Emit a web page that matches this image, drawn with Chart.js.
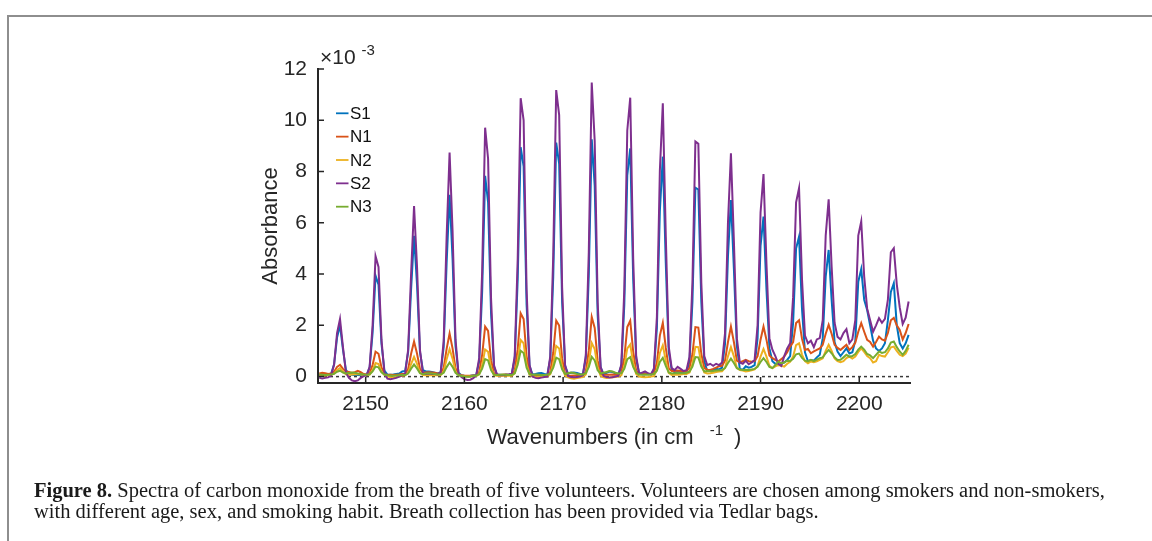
<!DOCTYPE html>
<html>
<head>
<meta charset="utf-8">
<script src="https://cdn.jsdelivr.net/npm/chart.js@4.4.1/dist/chart.umd.min.js"></script>
<style>
body{margin:0;background:#fff;width:1152px;height:541px;overflow:hidden;position:relative;}
#frame{position:absolute;left:7px;top:15px;right:0;bottom:0;border-top:2px solid #8e8e8e;border-left:2px solid #8e8e8e;}
#mycanvas{position:absolute;left:0;top:0;}
#caption{position:absolute;left:34px;top:480px;font-family:"Liberation Serif","Times New Roman",serif;color:#1a1a1a;line-height:21px;white-space:nowrap;font-size:18px;}
</style>
</head>
<body>
<div id="frame"></div>
<canvas id="mycanvas" width="1152" height="541"></canvas>
<div id="caption">
	<div><span id="cap1"><b>Figure 8.</b> Spectra of carbon monoxide from the breath of five volunteers. Volunteers are chosen among smokers and non-smokers,</span></div>
	<div>with different age, sex, and smoking habit. Breath collection has been provided via Tedlar bags.</div>
</div>
<script>
var wavenumbers = [
	2145.3,2145.6,2145.9,2146.2,2146.5,2146.8,2147.1,2147.4,2147.7,2148.0,
	2148.3,2148.6,2148.9,2149.2,2149.5,2149.8,2150.1,2150.4,2150.7,2151.0,
	2151.3,2151.6,2151.9,2152.2,2152.5,2152.8,2153.1,2153.4,2153.7,2154.0,
	2154.3,2154.6,2154.9,2155.2,2155.5,2155.8,2156.1,2156.4,2156.7,2157.0,
	2157.3,2157.6,2157.9,2158.2,2158.5,2158.8,2159.1,2159.4,2159.7,2160.0,
	2160.3,2160.6,2160.9,2161.2,2161.5,2161.8,2162.1,2162.4,2162.7,2163.0,
	2163.3,2163.6,2163.9,2164.2,2164.5,2164.8,2165.1,2165.4,2165.7,2166.0,
	2166.3,2166.6,2166.9,2167.2,2167.5,2167.8,2168.1,2168.4,2168.7,2169.0,
	2169.3,2169.6,2169.9,2170.2,2170.5,2170.8,2171.1,2171.4,2171.7,2172.0,
	2172.3,2172.6,2172.9,2173.2,2173.5,2173.8,2174.1,2174.4,2174.7,2175.0,
	2175.3,2175.6,2175.9,2176.2,2176.5,2176.8,2177.1,2177.4,2177.7,2178.0,
	2178.3,2178.6,2178.9,2179.2,2179.5,2179.8,2180.1,2180.4,2180.7,2181.0,
	2181.3,2181.6,2181.9,2182.2,2182.5,2182.8,2183.1,2183.4,2183.7,2184.0,
	2184.3,2184.6,2184.9,2185.2,2185.5,2185.8,2186.1,2186.4,2186.7,2187.0,
	2187.3,2187.6,2187.9,2188.2,2188.5,2188.8,2189.1,2189.4,2189.7,2190.0,
	2190.3,2190.6,2190.9,2191.2,2191.5,2191.8,2192.1,2192.4,2192.7,2193.0,
	2193.3,2193.6,2193.9,2194.2,2194.5,2194.8,2195.1,2195.4,2195.7,2196.0,
	2196.3,2196.6,2196.9,2197.2,2197.5,2197.8,2198.1,2198.4,2198.7,2199.0,
	2199.3,2199.6,2199.9,2200.2,2200.5,2200.8,2201.1,2201.4,2201.7,2202.0,
	2202.3,2202.6,2202.9,2203.2,2203.5,2203.8,2204.1,2204.4,2204.7,2205.0
];

// absorbance, units of 1e-3
var S1 = [
	0.08,0.05,0.06,0.08,0.11,0.48,1.52,2.0,1.05,0.26,
	0.1,0.07,0.06,0.06,0.05,0.06,0.08,0.35,1.7,3.94,
	3.59,1.28,0.23,0.08,0.07,0.08,0.1,0.12,0.2,0.22,
	0.95,3.4,5.49,3.6,0.95,0.25,0.2,0.2,0.18,0.15,
	0.12,0.17,1.15,4.43,7.09,4.6,1.2,0.15,0.05,0.03,
	0.02,0.03,0.05,0.06,0.6,3.32,7.83,6.8,2.47,0.37,
	0.08,0.07,0.06,0.07,0.08,0.1,0.7,3.8,8.95,8.2,
	2.8,0.42,0.08,0.1,0.13,0.14,0.1,0.07,0.7,3.9,
	9.13,8.3,2.9,0.42,0.12,0.15,0.16,0.14,0.1,0.08,
	0.72,3.95,9.26,7.45,2.4,0.36,0.1,0.15,0.2,0.18,
	0.12,0.1,0.42,2.8,7.85,8.9,3.8,0.7,0.12,0.13,
	0.12,0.1,0.1,0.25,1.9,6.46,8.58,4.43,0.97,0.28,
	0.16,0.18,0.16,0.15,0.17,0.58,2.91,7.37,7.3,2.91,
	0.6,0.22,0.22,0.25,0.3,0.28,0.35,1.27,4.7,6.89,
	4.2,1.2,0.3,0.26,0.4,0.35,0.38,0.45,1.5,5.1,
	6.24,3.4,1.1,0.6,0.5,0.45,0.5,0.55,0.65,0.8,
	2.1,5.0,5.46,2.64,0.95,0.6,0.65,0.62,0.75,0.85,
	1.5,3.9,4.94,3.0,1.35,0.98,0.8,0.95,1.1,0.9,
	0.95,1.4,3.7,4.19,3.0,2.6,2.0,1.4,1.1,1.0,
	1.1,1.3,2.2,3.3,3.64,2.0,1.3,1.1,1.3,1.63
];
var N1 = [
	0.12,0.15,0.13,0.1,0.12,0.19,0.38,0.46,0.3,0.2,
	0.18,0.14,0.17,0.22,0.17,0.1,0.08,0.14,0.45,0.97,
	0.89,0.36,0.1,0.06,0.07,0.06,0.07,0.08,0.1,0.11,
	0.29,0.89,1.37,0.9,0.3,0.14,0.16,0.17,0.16,0.15,
	0.12,0.12,0.34,1.08,1.68,1.1,0.33,0.1,0.05,0.03,
	0.03,0.03,0.04,0.05,0.18,0.85,1.95,1.78,0.64,0.12,
	0.07,0.06,0.07,0.08,0.07,0.07,0.23,1.07,2.47,2.25,
	0.8,0.13,0.04,0.03,0.03,0.04,0.03,0.03,0.18,0.93,
	2.18,1.99,0.7,0.1,0.03,0.03,0.04,0.03,0.03,0.04,
	0.2,1.0,2.33,1.9,0.62,0.1,0.06,0.07,0.07,0.08,
	0.07,0.08,0.15,0.73,1.93,2.18,0.97,0.23,0.1,0.1,
	0.11,0.1,0.1,0.13,0.54,1.6,2.1,1.13,0.32,0.22,
	0.22,0.24,0.22,0.2,0.22,0.33,0.88,1.93,1.91,0.88,
	0.34,0.27,0.26,0.3,0.35,0.4,0.42,0.62,1.35,1.95,
	1.35,0.62,0.55,0.6,0.65,0.6,0.58,0.6,0.8,1.44,
	1.95,1.44,0.82,0.72,0.65,0.59,0.68,0.78,0.95,1.17,
	1.34,2.09,2.2,1.47,1.04,1.08,0.91,0.98,1.04,1.1,
	1.24,1.67,2.02,1.67,1.24,1.12,1.04,1.14,1.24,1.04,
	1.15,1.33,1.75,2.09,1.75,1.43,1.35,1.17,1.35,1.56,
	1.45,1.4,1.7,2.2,2.29,2.0,1.82,1.45,1.7,2.05
];
var N2 = [
	0.05,0.03,0.04,0.05,0.06,0.12,0.26,0.33,0.2,0.09,
	0.07,0.08,0.09,0.1,0.08,0.06,0.05,0.08,0.25,0.53,
	0.49,0.2,0.06,0.0,-0.02,-0.03,-0.02,0.0,0.03,0.05,
	0.15,0.49,0.77,0.5,0.15,0.06,0.05,0.06,0.05,0.05,
	0.05,0.06,0.2,0.68,1.07,0.7,0.2,0.06,0.03,0.01,
	0.0,0.0,0.01,0.02,0.09,0.45,1.06,0.97,0.34,0.06,
	0.03,0.02,0.03,0.04,0.03,0.03,0.13,0.62,1.43,1.3,
	0.47,0.08,0.0,-0.02,-0.03,-0.02,0.0,0.0,0.09,0.5,
	1.2,1.1,0.37,0.04,-0.03,-0.07,-0.08,-0.06,-0.04,-0.02,
	0.08,0.55,1.31,1.07,0.35,0.03,-0.03,-0.05,-0.04,-0.03,
	-0.02,0.0,0.05,0.39,1.1,1.25,0.53,0.1,0.0,-0.02,
	-0.03,-0.02,0.0,0.02,0.27,0.92,1.22,0.63,0.14,0.06,
	0.08,0.07,0.08,0.1,0.1,0.16,0.5,1.16,1.15,0.5,
	0.16,0.12,0.13,0.15,0.18,0.2,0.21,0.34,0.79,1.15,
	0.79,0.34,0.26,0.24,0.2,0.22,0.25,0.28,0.42,0.78,
	1.08,0.78,0.42,0.33,0.4,0.45,0.42,0.39,0.5,0.58,
	0.78,1.23,1.3,0.86,0.6,0.52,0.59,0.56,0.6,0.65,
	0.71,1.0,1.24,1.0,0.71,0.6,0.56,0.6,0.72,0.78,
	0.7,0.78,0.96,1.1,0.96,0.8,0.72,0.55,0.6,0.85,
	0.8,0.78,0.95,1.14,1.17,1.0,0.85,0.8,0.9,1.12
];
var S2 = [
	-0.05,-0.07,-0.05,-0.03,0.04,0.47,1.69,2.25,1.15,0.15,
	-0.05,-0.15,-0.18,-0.15,-0.05,0.02,0.05,0.38,2.0,4.7,
	4.28,1.44,0.14,-0.08,-0.1,-0.08,-0.05,0.0,0.05,0.12,
	1.04,4.0,6.65,4.3,1.04,0.12,0.1,0.12,0.1,0.1,
	0.08,0.17,1.38,5.45,8.74,5.7,1.45,0.12,-0.02,-0.1,
	-0.13,-0.12,-0.06,0.05,0.73,4.11,9.71,8.5,3.04,0.44,
	0.08,0.05,0.05,0.07,0.08,0.1,0.81,4.59,10.86,10.0,
	3.4,0.45,0.0,-0.05,-0.06,-0.04,-0.02,0.0,0.8,4.71,
	11.18,10.2,3.48,0.45,0.02,-0.02,-0.03,-0.02,0.0,0.05,
	0.84,4.84,11.47,9.2,2.9,0.38,0.02,-0.02,-0.04,-0.03,
	0.0,0.03,0.48,3.41,9.6,10.88,4.6,0.81,0.1,0.15,
	0.2,0.13,0.08,0.32,2.33,8.03,10.66,5.5,1.17,0.33,
	0.25,0.38,0.3,0.22,0.25,0.77,3.66,9.17,9.08,3.66,
	0.8,0.45,0.5,0.42,0.5,0.45,0.55,1.69,6.0,8.71,
	5.3,1.5,0.55,0.5,0.62,0.48,0.55,0.65,2.0,6.4,
	7.9,4.4,1.5,1.05,0.8,0.5,0.42,0.8,1.1,1.3,
	3.1,6.8,7.35,3.8,1.6,1.3,1.4,1.15,1.45,1.5,
	2.2,5.5,6.92,4.3,2.1,1.55,1.45,1.7,1.85,1.3,
	1.45,2.2,5.5,6.05,3.9,2.65,2.2,1.75,2.0,2.28,
	2.1,2.25,3.0,4.85,5.01,3.6,2.7,2.05,2.3,2.93
];
var N3 = [
	0.08,0.07,0.06,0.07,0.08,0.11,0.19,0.23,0.16,0.12,
	0.14,0.16,0.15,0.12,0.1,0.08,0.07,0.09,0.2,0.39,
	0.36,0.17,0.08,0.05,0.04,0.03,0.04,0.05,0.06,0.06,
	0.12,0.31,0.47,0.32,0.13,0.09,0.12,0.13,0.12,0.1,
	0.08,0.08,0.15,0.37,0.55,0.38,0.15,0.06,0.02,0.0,
	-0.01,0.0,0.02,0.04,0.09,0.31,0.68,0.63,0.25,0.07,
	0.06,0.07,0.08,0.07,0.06,0.06,0.13,0.46,1.01,0.92,
	0.35,0.1,0.07,0.08,0.07,0.06,0.06,0.07,0.12,0.35,
	0.74,0.68,0.28,0.1,0.13,0.16,0.14,0.1,0.08,0.08,
	0.13,0.37,0.77,0.63,0.25,0.12,0.15,0.18,0.22,0.2,
	0.15,0.12,0.13,0.3,0.68,0.76,0.38,0.15,0.08,0.07,
	0.08,0.07,0.08,0.1,0.23,0.57,0.73,0.42,0.16,0.12,
	0.13,0.14,0.13,0.13,0.15,0.19,0.39,0.76,0.75,0.39,
	0.2,0.22,0.21,0.22,0.24,0.25,0.26,0.33,0.53,0.7,
	0.53,0.33,0.28,0.26,0.27,0.26,0.28,0.3,0.38,0.57,
	0.72,0.57,0.38,0.33,0.45,0.59,0.52,0.55,0.62,0.61,
	0.69,0.87,0.9,0.73,0.62,0.59,0.65,0.6,0.66,0.72,
	0.75,0.91,1.04,0.91,0.75,0.65,0.66,0.75,0.85,0.78,
	0.8,0.88,1.05,1.17,1.05,0.88,0.83,0.72,0.85,0.98,
	0.92,0.95,1.1,1.33,1.37,1.15,0.98,0.85,1.0,1.24
];

var names = ['S1','N1','N2','S2','N3'];
var colors = ['#0072BD','#D95319','#EDB120','#7E2F8E','#77AC30'];
var xTicks = [2150,2160,2170,2180,2190,2200];
var yTicks = [0,2,4,6,8,10,12];

var AXIS = '#262626';
var SANS = '"Liberation Sans", Arial, sans-serif';

function points(vals){
	return wavenumbers.map(function(x, i){ return {x: x, y: vals[i]}; });
}

// ticks on the inside, axis titles, exponent and legend
var extras = {
	id: 'extras',
	afterDraw: function(chart){
		var ctx = chart.ctx, a = chart.chartArea;
		var xs = chart.scales.x, ys = chart.scales.y;
		ctx.save();
		ctx.strokeStyle = AXIS;
		ctx.lineWidth = 1.5;
		ctx.beginPath();
		xTicks.forEach(function(v){
			var px = xs.getPixelForValue(v);
			ctx.moveTo(px, a.bottom);
			ctx.lineTo(px, a.bottom - 6);
		});
		yTicks.forEach(function(v){
			var py = ys.getPixelForValue(v);
			ctx.moveTo(a.left, py);
			ctx.lineTo(a.left + 6, py);
		});
		ctx.stroke();

		ctx.fillStyle = AXIS;
		ctx.textBaseline = 'alphabetic';

		// x10^-3 above the y axis
		ctx.font = '21px ' + SANS;
		ctx.textAlign = 'left';
		ctx.fillText('\u00d710', a.left + 2, 64);
		var w = ctx.measureText('\u00d710').width;
		ctx.font = '15px ' + SANS;
		ctx.fillText('-3', a.left + 2 + w + 6, 55);

		// y title
		ctx.font = '22px ' + SANS;
		ctx.save();
		ctx.translate(277, (a.top + a.bottom) / 2);
		ctx.rotate(-Math.PI / 2);
		ctx.textAlign = 'center';
		ctx.fillText('Absorbance', 0, 0);
		ctx.restore();

		// x title with superscript
		var main = 'Wavenumbers (in cm';
		ctx.font = '22px ' + SANS;
		var w1 = ctx.measureText(main).width;
		ctx.font = '15px ' + SANS;
		var w2 = ctx.measureText('-1').width;
		ctx.font = '22px ' + SANS;
		var w3 = ctx.measureText(')').width;
		var total = w1 + 16 + w2 + 11 + w3;
		var x0 = (a.left + a.right) / 2 - total / 2;
		ctx.fillText(main, x0, 444);
		ctx.fillText(')', x0 + w1 + 16 + w2 + 11, 444);
		ctx.font = '15px ' + SANS;
		ctx.fillText('-1', x0 + w1 + 16, 435);

		// legend
		ctx.font = '17px ' + SANS;
		ctx.textBaseline = 'middle';
		ctx.lineWidth = 1.8;
		names.forEach(function(n, i){
			var ly = 113.3 + i * 23.35;
			ctx.strokeStyle = colors[i];
			ctx.beginPath();
			ctx.moveTo(336, ly);
			ctx.lineTo(348.5, ly);
			ctx.stroke();
			ctx.fillStyle = '#111';
			ctx.fillText(n, 350, ly + 1);
		});
		ctx.restore();
	}
};

var series = [S1, N1, N2, S2, N3];
var datasets = series.map(function(vals, i){
	return {
		label: names[i],
		data: points(vals),
		borderColor: colors[i],
		borderWidth: 2,
		pointRadius: 0,
		tension: 0,
		fill: false,
		order: 5 - i
	};
});
datasets.push({
	label: 'zero',
	data: [{x: 2145.17, y: 0}, {x: 2205.14, y: 0}],
	borderColor: '#3a3a3a',
	borderWidth: 1.5,
	borderDash: [3, 3],
	pointRadius: 0,
	order: 6
});

var ctx = document.getElementById('mycanvas');
var chart = new Chart(ctx, {
	type: 'line',
	data: {datasets: datasets},
	options: {
		responsive: false,
		animation: false,
		events: [],
		layout: {padding: {left: 0, top: 69, right: 242, bottom: 118}},
		plugins: {legend: {display: false}, tooltip: {enabled: false}},
		scales: {
			x: {
				type: 'linear',
				min: 2145.17,
				max: 2205.14,
				afterBuildTicks: function(s){ s.ticks = xTicks.map(function(v){ return {value: v}; }); },
				afterFit: function(s){ s.height = 40; },
				grid: {display: false, drawTicks: false},
				border: {display: true, color: AXIS, width: 2},
				ticks: {color: AXIS, font: {family: SANS, size: 21}, padding: 9, maxRotation: 0, autoSkip: false,
					callback: function(v){ return String(v); }}
			},
			y: {
				type: 'linear',
				min: -0.25,
				max: 12,
				afterBuildTicks: function(s){ s.ticks = yTicks.map(function(v){ return {value: v}; }); },
				afterFit: function(s){ s.width = 318; },
				grid: {display: false, drawTicks: false},
				border: {display: true, color: AXIS, width: 2},
				ticks: {color: AXIS, font: {family: SANS, size: 21}, padding: 11,
					callback: function(v){ return String(v); }}
			}
		}
	},
	plugins: [extras]
});

// stretch the caption so its first line spans the frame
var cap = document.getElementById('caption');
var cap1 = document.getElementById('cap1');
var fs = 18;
cap.style.fontSize = (fs * 1071 / cap1.offsetWidth).toFixed(2) + 'px';
</script>
</body>
</html>
